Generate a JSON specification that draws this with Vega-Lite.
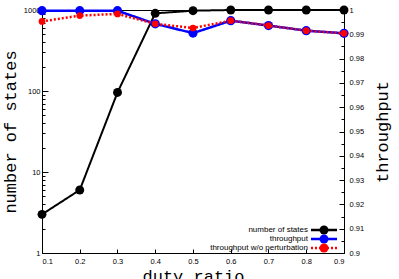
{
  "$schema": "https://vega.github.io/schema/vega-lite/v6.json",
  "width": 302,
  "height": 243,
  "autosize": {"type": "none"},
  "padding": {"left": 42, "top": 10, "right": 55, "bottom": 26},
  "background": "white",
  "config": {
    "view": {"stroke": "black", "strokeWidth": 1},
    "axis": {
      "labelFont": "Liberation Sans",
      "labelFontSize": 7.5,
      "labelColor": "black",
      "tickColor": "black",
      "domainColor": "black",
      "grid": false,
      "titleFont": "Liberation Mono",
      "titleFontSize": 17,
      "titleFontWeight": "normal",
      "titleColor": "black"
    }
  },
  "data": {
    "values": [
      {"ratio": 0.1, "series": "number of states", "value": 3},
      {"ratio": 0.2, "series": "number of states", "value": 6},
      {"ratio": 0.3, "series": "number of states", "value": 96},
      {"ratio": 0.4, "series": "number of states", "value": 910},
      {"ratio": 0.5, "series": "number of states", "value": 980},
      {"ratio": 0.6, "series": "number of states", "value": 1000},
      {"ratio": 0.7, "series": "number of states", "value": 1000},
      {"ratio": 0.8, "series": "number of states", "value": 1000},
      {"ratio": 0.9, "series": "number of states", "value": 1000},
      {"ratio": 0.1, "series": "throughput", "value": 0.9997},
      {"ratio": 0.2, "series": "throughput", "value": 0.9997},
      {"ratio": 0.3, "series": "throughput", "value": 0.9997},
      {"ratio": 0.4, "series": "throughput", "value": 0.9943},
      {"ratio": 0.5, "series": "throughput", "value": 0.9905},
      {"ratio": 0.6, "series": "throughput", "value": 0.9956},
      {"ratio": 0.7, "series": "throughput", "value": 0.9936},
      {"ratio": 0.8, "series": "throughput", "value": 0.9915},
      {"ratio": 0.9, "series": "throughput", "value": 0.9904},
      {"ratio": 0.1, "series": "throughput w/o perturbation", "value": 0.9953},
      {"ratio": 0.2, "series": "throughput w/o perturbation", "value": 0.9977},
      {"ratio": 0.3, "series": "throughput w/o perturbation", "value": 0.9984},
      {"ratio": 0.4, "series": "throughput w/o perturbation", "value": 0.9943},
      {"ratio": 0.5, "series": "throughput w/o perturbation", "value": 0.9926},
      {"ratio": 0.6, "series": "throughput w/o perturbation", "value": 0.9956},
      {"ratio": 0.7, "series": "throughput w/o perturbation", "value": 0.9936},
      {"ratio": 0.8, "series": "throughput w/o perturbation", "value": 0.9915},
      {"ratio": 0.9, "series": "throughput w/o perturbation", "value": 0.9904}
    ]
  },
  "encoding": {
    "x": {
      "field": "ratio",
      "type": "quantitative",
      "scale": {"domain": [0.1, 0.9], "nice": false, "zero": false},
      "axis": {
        "title": "duty ratio",
        "values": [0.1, 0.2, 0.3, 0.4, 0.5, 0.6, 0.7, 0.8, 0.9],
        "format": ".1f",
        "tickSize": -4,
        "labelPadding": 8,
        "titleX": 151,
        "titleY": 15.5,
        "titleBaseline": "top",
        "titleAlign": "center"
      }
    },
    "color": {
      "field": "series",
      "type": "nominal",
      "scale": {
        "domain": ["number of states", "throughput", "throughput w/o perturbation"],
        "range": ["black", "blue", "red"]
      },
      "legend": {
        "title": null,
        "orient": "none",
        "legendX": 277.5,
        "legendY": 215.5,
        "direction": "vertical",
        "padding": 0,
        "symbolType": "circle",
        "symbolSize": 80,
        "symbolStrokeWidth": 0,
        "symbolOffset": 0,
        "labelAlign": "right",
        "labelOffset": -20.5,
        "labelFont": "Liberation Sans",
        "labelFontSize": 8,
        "labelColor": "black",
        "rowPadding": -1.5,
        "encode": {
          "symbols": {
            "update": {
              "fill": {"signal": "scale('color', datum.value)"}
            }
          }
        }
      }
    },
    "strokeDash": {
      "field": "series",
      "type": "nominal",
      "scale": {
        "domain": ["throughput w/o perturbation", "throughput", "number of states"],
        "range": [[2, 2], [1, 0], [1, 0]]
      },
      "legend": {
        "title": null,
        "orient": "none",
        "legendX": 267.5,
        "legendY": 216.25,
        "direction": "vertical",
        "padding": 0,
        "values": ["number of states", "throughput", "throughput w/o perturbation"],
        "symbolType": "stroke",
        "symbolSize": 676,
        "symbolStrokeWidth": 2.5,
        "symbolOffset": 0,
        "clipHeight": 7.5,
        "labelExpr": "''",
        "labelFontSize": 8,
        "rowPadding": 0,
        "encode": {
          "symbols": {
            "update": {
              "stroke": {"signal": "scale('color', datum.value)"}
            }
          }
        }
      }
    }
  },
  "layer": [
    {
      "transform": [{"filter": "datum.series == 'number of states'"}],
      "mark": {"type": "line", "strokeWidth": 2, "point": {"filled": true, "size": 80}},
      "encoding": {
        "y": {
          "field": "value",
          "type": "quantitative",
          "scale": {"type": "log", "domain": [1, 1000], "nice": false},
          "axis": {
            "title": "number of states",
            "orient": "left",
            "values": [1, 2, 3, 4, 5, 6, 7, 8, 9, 10, 20, 30, 40, 50, 60, 70, 80, 90, 100, 200, 300, 400, 500, 600, 700, 800, 900, 1000],
            "labelExpr": "indexof([1, 10, 100, 1000], datum.value) >= 0 ? datum.value + '' : ''",
            "tickSize": {"condition": {"test": "indexof([1, 10, 100, 1000], datum.value) >= 0", "value": -6}, "value": -3},
            "labelPadding": {"condition": {"test": "indexof([1, 10, 100, 1000], datum.value) >= 0", "value": 8}, "value": 5},
            "titleX": -32,
            "titleY": 121.5,
            "titleAngle": -90,
            "titleBaseline": "middle",
            "titleAlign": "center"
          }
        }
      }
    },
    {
      "encoding": {
        "y": {
          "field": "value",
          "type": "quantitative",
          "scale": {"domain": [0.9, 1], "nice": false, "zero": false},
          "axis": {
            "title": "throughput",
            "orient": "right",
            "values": [0.9, 0.905, 0.91, 0.915, 0.92, 0.925, 0.93, 0.935, 0.94, 0.945, 0.95, 0.955, 0.96, 0.965, 0.97, 0.975, 0.98, 0.985, 0.99, 0.995, 1],
            "labelExpr": "round(datum.value * 1000) % 10 == 0 ? format(datum.value, '.2~f') : ''",
            "tickSize": {"condition": {"test": "round(datum.value * 1000) % 10 == 0", "value": -5}, "value": -3},
            "labelPadding": {"condition": {"test": "round(datum.value * 1000) % 10 == 0", "value": 10}, "value": 8},
            "titleX": 38,
            "titleY": 121.5,
            "titleAngle": -90,
            "titleBaseline": "middle",
            "titleAlign": "center"
          }
        }
      },
      "layer": [
        {
          "transform": [{"filter": "datum.series == 'throughput'"}],
          "mark": {"type": "line", "strokeWidth": 2.5, "point": {"filled": true, "size": 85}}
        },
        {
          "transform": [{"filter": "datum.series == 'throughput w/o perturbation'"}],
          "mark": {"type": "line", "strokeWidth": 2.5, "point": {"filled": true, "size": 45}}
        }
      ]
    }
  ],
  "resolve": {"scale": {"y": "independent"}}
}
